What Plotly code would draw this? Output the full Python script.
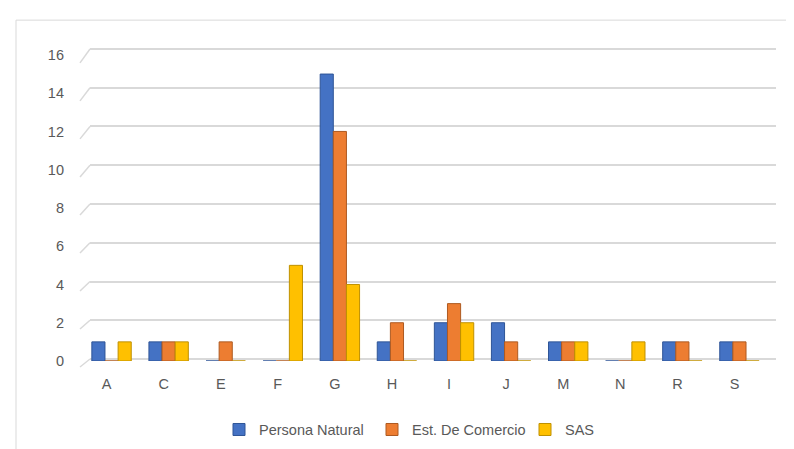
import plotly.graph_objects as go

categories = ["A", "C", "E", "F", "G", "H", "I", "J", "M", "N", "R", "S"]
persona_natural = [1, 1, 0, 0, 15, 1, 2, 2, 1, 0, 1, 1]
est_comercio = [0, 1, 1, 0, 12, 2, 3, 1, 1, 0, 1, 1]
sas = [1, 1, 0, 5, 4, 0, 2, 0, 1, 1, 0, 0]
y_ticks = [0, 2, 4, 6, 8, 10, 12, 14, 16]

series = [
    ("Persona Natural", persona_natural, "#4472C4", "#2F5597"),
    ("Est. De Comercio", est_comercio, "#ED7D31", "#AE5A21"),
    ("SAS", sas, "#FFC000", "#BF9000"),
]

W, H = 794, 449
L, R, T, B = 75, 26, 34, 94
PW, PH = W - L - R, H - T - B
BAR_UNIT = 19.25     # px per unit on the front (bar) scale, zero at y=355
GRID_UNIT = 19.5     # px per unit on the back wall, zero at y=353


def px_x(px):
    return (px - L) / PW


def px_y(py):
    return (H - B - py) / PH


grey = "#595959"
fig = go.Figure()
# invisible placeholder so the back-wall grid subplot is rendered
fig.add_trace(go.Scatter(x=[0.5], y=[None], mode="markers", showlegend=False,
                         hoverinfo="skip", xaxis="x", yaxis="y"))
for name, vals, col, edge in series:
    fig.add_trace(go.Bar(
        x=categories, y=vals, name=name, xaxis="x2", yaxis="y2",
        marker=dict(color=col, line=dict(color=edge, width=1)),
    ))

fig.update_layout(
    width=W, height=H,
    margin=dict(l=L, r=R, t=T, b=B),
    paper_bgcolor="white", plot_bgcolor="rgba(0,0,0,0)",
    barmode="group", bargap=0.31, bargroupgap=0.0,
    font=dict(family="Liberation Sans, Arial, sans-serif", size=14, color=grey),
    showlegend=True,
    legend=dict(orientation="h", x=px_x(211), xanchor="left", y=px_y(424), yanchor="middle",
                font=dict(size=14.5, color=grey), traceorder="normal",
                entrywidth=108, entrywidthmode="pixels"),
    # back-wall gridlines (perspective-shifted)
    xaxis=dict(domain=[px_x(82), 1], range=[0, 1], showgrid=False, zeroline=False,
               showline=False, showticklabels=False, ticks="", fixedrange=True),
    yaxis=dict(domain=[0, 1], range=[-(H - B - 353) / GRID_UNIT, (353 - T) / GRID_UNIT],
               tickvals=y_ticks, showgrid=True, gridcolor="#D9D9D9", gridwidth=1.5,
               zeroline=False, showline=False, showticklabels=False, ticks=""),
    # category / value axes used by the bars
    xaxis2=dict(domain=[0, px_x(760)], anchor="y2", showgrid=False, showline=False,
                zeroline=False, ticks="", ticklabelstandoff=12, ticklabelshift=-5,
                tickfont=dict(size=14.5, color=grey)),
    yaxis2=dict(domain=[0, 1], anchor="x2", range=[0, (H - B - T) / BAR_UNIT],
                tickvals=y_ticks, showgrid=False, zeroline=False, showline=False,
                ticks="", ticklabelstandoff=18,
                tickfont=dict(size=14.5, color=grey)),
)

# short perspective connectors from the value labels to the back-wall gridlines
for v in y_ticks:
    y_back = 353 - GRID_UNIT * v
    y_front = y_back + 8 + 6 * v / 16
    fig.add_shape(type="line", xref="paper", yref="paper",
                  x0=px_x(72), y0=px_y(y_front), x1=px_x(82), y1=px_y(y_back),
                  line=dict(color="#D9D9D9", width=1.5), layer="below")

# chart border (left and top edges visible)
fig.add_shape(type="line", xref="paper", yref="paper",
              x0=px_x(8), x1=px_x(8), y0=px_y(H), y1=px_y(12),
              line=dict(color="#D9D9D9", width=1))
fig.add_shape(type="line", xref="paper", yref="paper",
              x0=px_x(8), x1=px_x(W), y0=px_y(12), y1=px_y(12),
              line=dict(color="#D9D9D9", width=1))

fig.write_html("out.html")
